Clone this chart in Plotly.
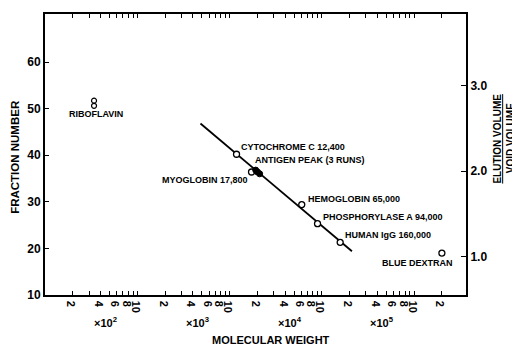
import math
import plotly.graph_objects as go

# ---- data ----
protein_names = ["CYTOCHROME C", "MYOGLOBIN", "HEMOGLOBIN", "PHOSPHORYLASE A", "HUMAN IgG", "BLUE DEXTRAN"]
protein_mw = [11900, 17300, 60600, 89800, 158000, 2000000]
protein_fraction = [40.2, 36.4, 29.4, 25.3, 21.3, 19.0]

riboflavin_mw = [340, 340]
riboflavin_fraction = [51.7, 50.6]

antigen_mw = [19200, 20100, 21200]
antigen_fraction = [36.8, 36.4, 36.0]

fit_mw = [4840, 212000]
fit_fraction = [46.8, 19.4]

y_ticks = [10, 20, 30, 40, 50, 60]
ratio_ticks = [1.0, 2.0, 3.0]
ratio_tick_text = ["1.0", "2.0", "3.0"]
void_fraction = 18.3  # fraction number where elution/void = 1

decades = [100, 1000, 10000, 100000, 1000000]
major_mult = [2, 4, 6, 8, 10]
major_text = ["2", "4", "6", "8", "10"]
minor_mult = [3, 5, 7, 9]
decade_labels = ["×10<sup>2</sup>", "×10<sup>3</sup>", "×10<sup>4</sup>", "×10<sup>5</sup>"]

labels = [
    ("CYTOCHROME C 12,400", 12530, 41.7, "left"),
    ("ANTIGEN PEAK (3 RUNS)", 17800, 38.9, "left"),
    ("MYOGLOBIN 17,800", 16500, 34.7, "right"),
    ("HEMOGLOBIN 65,000", 67000, 30.6, "left"),
    ("PHOSPHORYLASE A 94,000", 97500, 26.7, "left"),
    ("HUMAN IgG 160,000", 169000, 22.8, "left"),
    ("BLUE DEXTRAN", 1100000, 16.8, "center"),
    ("RIBOFLAVIN", 358, 48.9, "center"),
]

XMAX = 3.65e6

# ---- build ticks ----
tickvals, ticktext, minorvals = [], [], []
for d in decades:
    for m, t in zip(major_mult, major_text):
        if d * m <= XMAX and not (d == 1000000 and m > 2):
            tickvals.append(d * m)
            ticktext.append(t)
    for m in minor_mult:
        if d * m <= XMAX and d < 1000000:
            minorvals.append(d * m)

FONT = "Liberation Sans"
fig = go.Figure()

fig.add_trace(go.Scatter(x=fit_mw, y=fit_fraction, mode="lines",
                         line=dict(color="black", width=1.8), showlegend=False))
fig.add_trace(go.Scatter(x=protein_mw, y=protein_fraction, mode="markers",
                         marker=dict(symbol="circle", size=6, color="white",
                                     line=dict(color="black", width=1.3)),
                         showlegend=False))
fig.add_trace(go.Scatter(x=riboflavin_mw, y=riboflavin_fraction, mode="markers",
                         marker=dict(symbol="circle", size=5, color="white",
                                     line=dict(color="black", width=1.2)),
                         showlegend=False))
fig.add_trace(go.Scatter(x=antigen_mw, y=antigen_fraction, mode="markers",
                         marker=dict(symbol="circle", size=6, color="black",
                                     line=dict(color="black", width=1)),
                         showlegend=False))
# invisible trace to activate right axis
fig.add_trace(go.Scatter(x=[fit_mw[0]], y=[ratio_ticks[0]], yaxis="y2", mode="markers",
                         marker=dict(opacity=0), showlegend=False, hoverinfo="skip"))

ann = []
for text, mw, fr, anchor in labels:
    ann.append(dict(x=math.log10(mw), y=fr, xref="x", yref="y", text=text, showarrow=False,
                    xanchor=anchor, yanchor="middle",
                    font=dict(family=FONT, size=9, color="black", weight="bold")))
for i, t in enumerate(decade_labels):
    ann.append(dict(x=math.log10(decades[i]) + 0.652, y=-0.095, xref="x", yref="paper",
                    text=t, showarrow=False, xanchor="center", yanchor="middle",
                    font=dict(family=FONT, size=11, color="black", weight="bold")))
ann.append(dict(x=0.5, y=-0.16, xref="paper", yref="paper", yanchor="middle",
                text="MOLECULAR WEIGHT", showarrow=False, xshift=15,
                font=dict(family=FONT, size=11, color="black", weight="bold")))
ann.append(dict(x=-0.07, y=0.49, xref="paper", yref="paper", text="FRACTION NUMBER",
                textangle=-90, showarrow=False, xanchor="center", yanchor="middle",
                font=dict(family=FONT, size=11.5, color="black", weight="bold")))
ann.append(dict(x=1.0745, y=0.558, xref="paper", yref="paper", text="<u>ELUTION VOLUME</u>",
                textangle=-90, showarrow=False, xanchor="center", yanchor="middle",
                font=dict(family=FONT, size=10, color="black", weight="bold")))
ann.append(dict(x=1.1045, y=0.558, xref="paper", yref="paper", text="VOID VOLUME",
                textangle=-90, showarrow=False, xanchor="center", yanchor="middle",
                font=dict(family=FONT, size=10, color="black", weight="bold")))

fig.update_layout(
    width=512, height=346,
    margin=dict(l=45, r=46, t=12, b=51),
    paper_bgcolor="white", plot_bgcolor="white",
    showlegend=False,
    xaxis=dict(type="log", range=[2, math.log10(XMAX)], tickmode="array",
               tickvals=tickvals, ticktext=ticktext,
               ticks="inside", ticklen=4, tickwidth=1, tickcolor="black",
               ticklabelstandoff=-4,
               minor=dict(tickmode="array", tickvals=minorvals, ticks="inside", ticklen=4,
                          tickwidth=1, tickcolor="black", showgrid=False),
               showline=True, linewidth=2, linecolor="black", mirror="ticks",
               showgrid=False, zeroline=False,
               tickfont=dict(family=FONT, size=11, color="black", weight="bold")),
    yaxis=dict(range=[10, 70.3], tickvals=y_ticks, ticks="inside", ticklen=4, tickwidth=1,
               tickcolor="black", showline=True, linewidth=2, linecolor="black", mirror=True,
               showgrid=False, zeroline=False,
               tickfont=dict(family=FONT, size=12, color="black", weight="bold")),
    yaxis2=dict(overlaying="y", side="right", range=[10 / void_fraction, 70.3 / void_fraction],
                tickvals=ratio_ticks, ticktext=ratio_tick_text, ticks="inside", ticklen=5,
                tickwidth=1, tickcolor="black", showline=True, linewidth=2, linecolor="black",
                showgrid=False, zeroline=False,
                tickfont=dict(family=FONT, size=12, color="black", weight="bold")),
    annotations=ann,
)

fig.write_html("out.html")
